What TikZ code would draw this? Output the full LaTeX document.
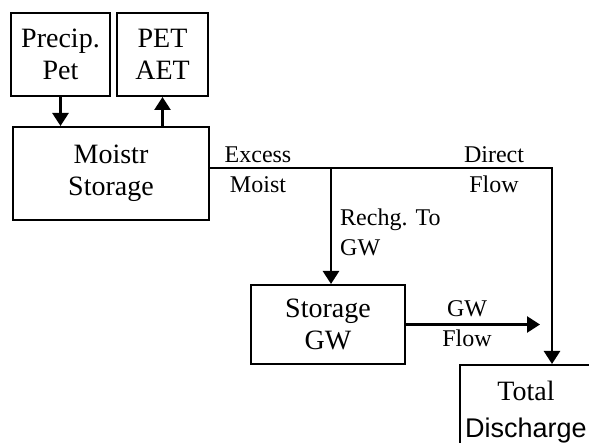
\documentclass[tikz,border=0pt]{standalone}
\usepackage{fontspec}
\setmainfont{Liberation Serif}
\newfontfamily\dischargefont{Liberation Sans}
\usetikzlibrary{arrows.meta}
\tikzstyle{block}=[draw, line width=2pt, align=center, inner sep=0pt, font=\fontsize{28}{32}\selectfont]
\tikzstyle{flow}=[line width=2.6pt, -{Triangle[length=13pt, width=16pt]}]
\tikzstyle{tag}=[inner sep=0pt, font=\fontsize{24}{30}\selectfont]

\begin{document}
\begin{tikzpicture}[x=1pt, y=-1pt]
				\useasboundingbox (0,0) rectangle (589,443);

				\node[block, minimum width=99pt, minimum height=83pt] (precip) at (60.5,54.5) {Precip.\\Pet};
				\node[block, minimum width=91pt, minimum height=83pt] (pet) at (162.5,54.5) {PET\\AET};
				\node[block, minimum width=196pt, minimum height=93pt] (moist) at (111,173.5) {Moistr\\Storage};
				\node[block, minimum width=154pt, minimum height=79pt] (storage) at (328,324.5) {Storage\\GW};
				\node[block, minimum width=132pt, minimum height=94pt] (total) at (526,412) {Total\\[5pt]{\dischargefont\fontsize{27}{32}\selectfont Discharge}};

				\coordinate (split) at (331,168);
				\coordinate (corner) at (552,168);
				\coordinate (gwend) at (540,324.5);

				\node[tag, align=center] (excess) at (258,170) {Excess\\Moist};
				\node[tag, align=center] (direct) at (494,170) {Direct\\Flow};
				\node[tag, align=left, anchor=west] (rechg) at (340,232) {Rechg. To\\GW};
				\node[tag, align=center] (gwflow) at (467,324) {GW\\Flow};

				\draw[flow] (precip.south) -- (precip.south |- moist.north);
				\draw[flow] (pet.south |- moist.north) -- (pet.south);
				\draw[flow] (moist.east |- split) -- (corner) -- (corner |- total.north);
				\draw[flow] (split) -- (split |- storage.north);
				\draw[flow] (storage.east) -- (gwend);
			\end{tikzpicture}
\end{document}
